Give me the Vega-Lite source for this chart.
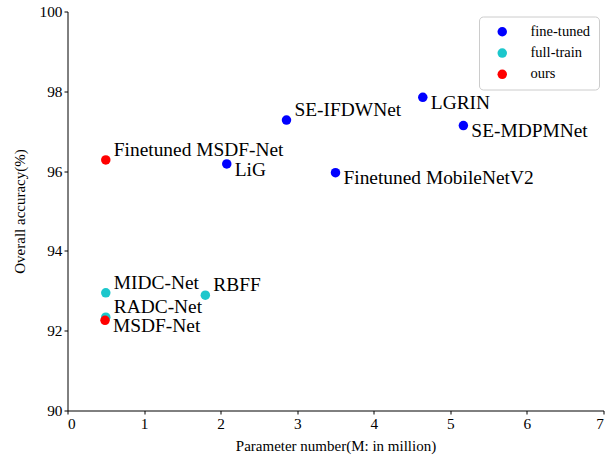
{
  "$schema": "https://vega.github.io/schema/vega-lite/v6.json",
  "width": 536,
  "height": 399,
  "autosize": {"type": "none"},
  "padding": {"left": 67.5, "top": 11.5, "right": 9.5, "bottom": 46.5},
  "config": {
    "view": {"stroke": null},
    "font": "'Liberation Serif', 'Times New Roman', serif",
    "axis": {
      "domainColor": "#000000",
      "tickColor": "#000000",
      "labelColor": "#000000",
      "titleColor": "#000000",
      "grid": false,
      "labelFont": "'Liberation Serif', 'Times New Roman', serif",
      "titleFont": "'Liberation Serif', 'Times New Roman', serif",
      "labelFontSize": 15.3,
      "titleFontSize": 15,
      "titleFontWeight": "normal",
      "tickSize": 3.5,
      "labelPadding": 2
    },
    "legend": {
      "labelFont": "'Liberation Serif', 'Times New Roman', serif"
    }
  },
  "data": {
    "values": [
      {"name": "LiG", "params": 2.08, "acc": 96.18, "type": "fine-tuned"},
      {"name": "SE-IFDWNet", "params": 2.86, "acc": 97.28, "type": "fine-tuned"},
      {"name": "LGRIN", "params": 4.64, "acc": 97.85, "type": "fine-tuned"},
      {"name": "SE-MDPMNet", "params": 5.17, "acc": 97.14, "type": "fine-tuned"},
      {"name": "Finetuned MobileNetV2", "params": 3.5, "acc": 95.96, "type": "fine-tuned"},
      {"name": "MIDC-Net", "params": 0.5, "acc": 92.95, "type": "full-train"},
      {"name": "RBFF", "params": 1.8, "acc": 92.89, "type": "full-train"},
      {"name": "RADC-Net", "params": 0.5, "acc": 92.34, "type": "full-train"},
      {"name": "Finetuned MSDF-Net", "params": 0.5, "acc": 96.28, "type": "ours"},
      {"name": "MSDF-Net", "params": 0.49, "acc": 92.26, "type": "ours"}
    ]
  },
  "encoding": {
    "x": {
      "field": "params",
      "type": "quantitative",
      "scale": {"domain": [0, 7], "nice": false, "zero": false},
      "axis": {"values": [0, 1, 2, 3, 4, 5, 6, 7], "title": "Parameter number(M: in million)", "titlePadding": 7}
    },
    "y": {
      "field": "acc",
      "type": "quantitative",
      "scale": {"domain": [90, 100], "nice": false, "zero": false},
      "axis": {"values": [90, 92, 94, 96, 98, 100], "title": "Overall accuracy(%)", "titlePadding": 12}
    }
  },
  "layer": [
    {
      "mark": {"type": "circle", "opacity": 1},
      "encoding": {
        "color": {
          "field": "type",
          "type": "nominal",
          "scale": {"domain": ["fine-tuned", "full-train", "ours"], "range": ["#0000ff", "#1cc7cc", "#ff0000"]},
          "legend": {
            "title": null,
            "orient": "none",
            "legendX": 411.5,
            "legendY": 5,
            "fillColor": "#ffffff",
            "strokeColor": "#cccccc",
            "cornerRadius": 4,
            "padding": 8,
            "symbolOffset": 8,
            "symbolSize": 110,
            "symbolType": "circle",
            "labelOffset": 21,
            "labelFont": "'Liberation Serif', 'Times New Roman', serif",
            "labelFontSize": 14.5,
            "labelColor": "#000000",
            "rowPadding": 6.3
          }
        },
        "size": {
          "field": "type",
          "type": "nominal",
          "scale": {"domain": ["fine-tuned", "full-train", "ours"], "range": [90, 90, 150]},
          "legend": null
        }
      }
    },
    {
      "transform": [{"filter": {"field": "name", "oneOf": ["Finetuned MSDF-Net", "SE-IFDWNet", "MIDC-Net", "RBFF", "RADC-Net"]}}],
      "mark": {"type": "text", "align": "left", "baseline": "alphabetic", "dx": 8, "dy": -4, "fontSize": 19.4, "font": "'Liberation Serif', 'Times New Roman', serif", "color": "#000000"},
      "encoding": {"text": {"field": "name"}}
    },
    {
      "transform": [{"filter": {"field": "name", "oneOf": ["LiG", "LGRIN", "SE-MDPMNet", "Finetuned MobileNetV2", "MSDF-Net"]}}],
      "mark": {"type": "text", "align": "left", "baseline": "alphabetic", "dx": 8, "dy": 11.8, "fontSize": 19.4, "font": "'Liberation Serif', 'Times New Roman', serif", "color": "#000000"},
      "encoding": {"text": {"field": "name"}}
    }
  ]
}
